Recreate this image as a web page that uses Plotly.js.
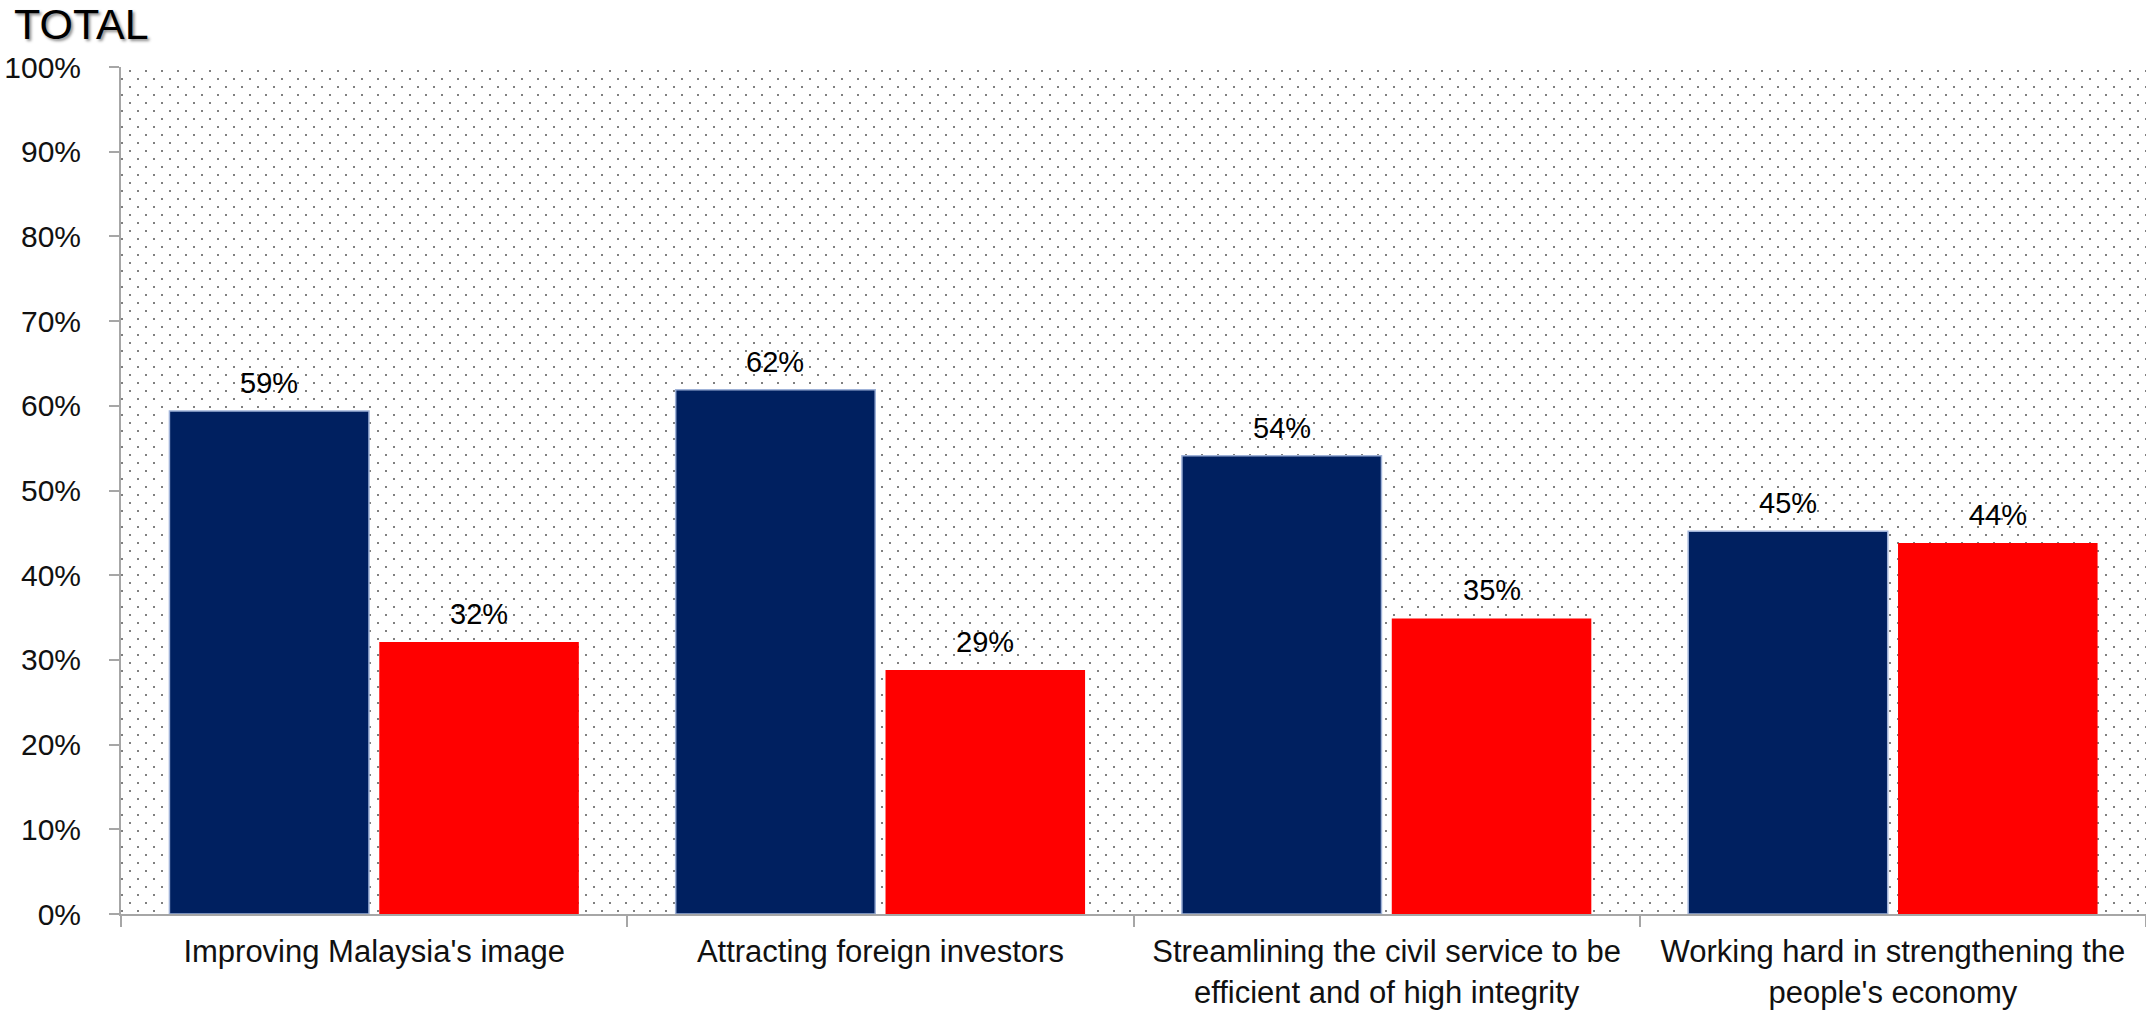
<!DOCTYPE html>
<html>
<head>
<meta charset="utf-8">
<script src="https://cdn.plot.ly/plotly-3.0.1.min.js"></script>
<style>
html, body { margin: 0; padding: 0; background: #ffffff; }
#chart { width: 2146px; height: 1014px; }
</style>
</head>
<body>
<div id="chart"></div>
<script>
// ---- data ----
var categories = [
  "Improving Malaysia's image",
  "Attracting foreign investors",
  "Streamlining the civil service to be<br>efficient and of high integrity",
  "Working hard in strengthening the<br>people's economy"
];
var seriesBlue = [59.4, 61.9, 54.1, 45.2];
var seriesRed = [32.1, 28.8, 34.9, 43.8];
var yTickValues = [0, 10, 20, 30, 40, 50, 60, 70, 80, 90, 100];
var yTickLabels = ["0%", "10%", "20%", "30%", "40%", "50%", "60%", "70%", "80%", "90%", "100%"];
var chartTitle = "TOTAL";

// ---- layout constants ----
var W = 2146, H = 1014;
var M = {l: 121, r: 0, t: 67, b: 100};
var plotW = W - M.l - M.r, plotH = H - M.t - M.b;
var FONT = "Liberation Sans, Arial, sans-serif";

// dotted plot-area background as an svg pattern
var svg = '<svg xmlns="http://www.w3.org/2000/svg" width="' + plotW + '" height="' + plotH + '">' +
  '<defs><pattern id="p" x="0" y="0" width="16" height="16" patternUnits="userSpaceOnUse">' +
  '<rect x="8" y="3" width="2" height="2" fill="#808080"/>' +
  '<rect x="0" y="11" width="2" height="2" fill="#808080"/>' +
  '</pattern></defs><rect width="100%" height="100%" fill="url(#p)"/></svg>';
var bgSrc = 'data:image/svg+xml;base64,' + btoa(svg);

var traceBlue = {
  type: 'bar', x: categories, y: seriesBlue, name: 'A',
  marker: {color: '#002060', line: {color: '#9fb2d8', width: 1.5}},
  hoverinfo: 'none'
};
var traceRed = {
  type: 'bar', x: categories, y: seriesRed, name: 'B',
  marker: {color: '#ff0000', line: {width: 0}},
  hoverinfo: 'none'
};

// value labels from the data arrays
var annotations = [];
var series = [seriesBlue, seriesRed];
var shifts = [-105, 105];
for (var s = 0; s < series.length; s++) {
  for (var j = 0; j < categories.length; j++) {
    annotations.push({
      x: categories[j], y: series[s][j], xref: 'x', yref: 'y',
      text: Math.round(series[s][j]) + '%',
      showarrow: false, xanchor: 'center', yanchor: 'bottom',
      xshift: shifts[s], yshift: 10,
      font: {family: FONT, size: 29, color: '#000000'}
    });
  }
}

var layout = {
  width: W, height: H,
  margin: M,
  paper_bgcolor: '#ffffff',
  plot_bgcolor: '#ffffff',
  showlegend: false,
  barmode: 'group',
  bargap: 0.171,
  bargroupgap: 0.049,
  title: {
    text: chartTitle,
    x: 14 / W, xanchor: 'left', xref: 'container',
    y: 1 - 9 / H, yanchor: 'top', yref: 'container',
    pad: {t: 0, b: 0, l: 0, r: 0},
    font: {family: FONT, size: 43, color: '#000000', shadow: '2px 2px 3px rgba(0,0,0,0.45)'}
  },
  xaxis: {
    type: 'category',
    showline: true, linecolor: '#a6a6a6', linewidth: 2,
    ticks: 'outside', tickson: 'boundaries', ticklen: 11, tickcolor: '#a6a6a6', tickwidth: 2,
    showgrid: false, zeroline: false,
    tickfont: {family: FONT, size: 31, color: '#111111'},
    ticklabelstandoff: 9,
    range: [-0.5, 3.5]
  },
  yaxis: {
    range: [0, 100], tickmode: 'array', tickvals: yTickValues, ticktext: yTickLabels,
    showline: true, linecolor: '#a6a6a6', linewidth: 2,
    ticks: 'outside', ticklen: 10, tickcolor: '#a6a6a6', tickwidth: 2,
    showgrid: false, zeroline: false,
    tickfont: {family: FONT, size: 30, color: '#111111'},
    ticklabelstandoff: 22
  },
  images: [{
    source: bgSrc, xref: 'paper', yref: 'paper', x: 0, y: 1,
    sizex: 1, sizey: 1, sizing: 'stretch', xanchor: 'left', yanchor: 'top',
    layer: 'below'
  }],
  annotations: annotations
};

Plotly.newPlot('chart', [traceBlue, traceRed], layout, {displayModeBar: false, staticPlot: true});
</script>
</body>
</html>
